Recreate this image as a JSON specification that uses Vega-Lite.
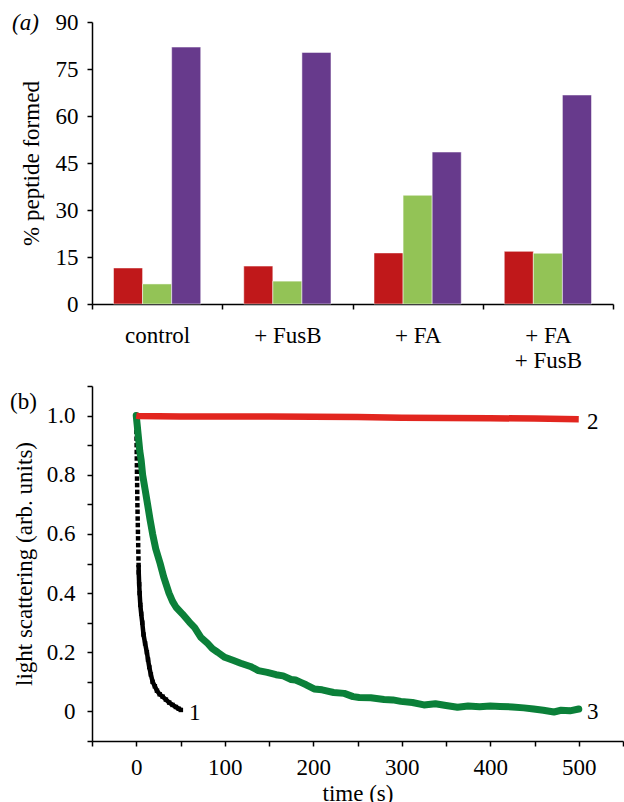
{
  "$schema": "https://vega.github.io/schema/vega-lite/v6.json",
  "padding": {"left": 10, "top": 11, "right": 1, "bottom": 0},
  "background": "white",
  "config": {
    "font": "Liberation Serif",
    "view": {"stroke": null},
    "axis": {
      "labelFont": "Liberation Serif", "titleFont": "Liberation Serif",
      "labelFontSize": 23, "titleFontSize": 23, "titleFontWeight": "normal",
      "labelColor": "#000", "titleColor": "#000", "domainColor": "#000", "tickColor": "#000",
      "grid": false, "domainWidth": 1.5, "tickWidth": 1.5, "tickSize": 5
    },
    "title": {"font": "Liberation Serif", "fontSize": 23, "fontWeight": "normal", "color": "#000"},
    "concat": {"spacing": 3}
  },
  "vconcat": [
    {
      "width": 521,
      "height": 282,
      "title": {"text": "(a)", "anchor": "start", "frame": "group", "dx": -80, "offset": -42, "baseline": "alphabetic", "fontStyle": "italic"},
      "data": {"values": [
        {"condition": "control", "series": "1", "value": 11.5},
        {"condition": "control", "series": "2", "value": 6.4},
        {"condition": "control", "series": "3", "value": 82.0},
        {"condition": "+ FusB", "series": "1", "value": 12.1},
        {"condition": "+ FusB", "series": "2", "value": 7.3},
        {"condition": "+ FusB", "series": "3", "value": 80.3},
        {"condition": "+ FA", "series": "1", "value": 16.3},
        {"condition": "+ FA", "series": "2", "value": 34.7},
        {"condition": "+ FA", "series": "3", "value": 48.5},
        {"condition": "+ FA + FusB", "series": "1", "value": 16.8},
        {"condition": "+ FA + FusB", "series": "2", "value": 16.2},
        {"condition": "+ FA + FusB", "series": "3", "value": 66.7}
      ]},
      "mark": {"type": "bar", "stroke": "white", "strokeWidth": 0.5},
      "encoding": {
        "x": {
          "field": "condition", "type": "nominal",
          "sort": ["control", "+ FusB", "+ FA", "+ FA + FusB"],
          "scale": {"paddingInner": 0, "paddingOuter": 0},
          "axis": {
            "title": null, "labelAngle": 0, "tickBand": "extent", "labelPadding": 15,
            "labelLineHeight": 25, "labelBaseline": "top",
            "labelExpr": "datum.value == '+ FA + FusB' ? ['+ FA', '+ FusB'] : datum.label"
          }
        },
        "xOffset": {"field": "series", "type": "nominal", "sort": ["1", "2", "3"], "scale": {"paddingOuter": 0.74, "paddingInner": 0}},
        "y": {
          "field": "value", "type": "quantitative",
          "scale": {"domain": [0, 90], "nice": false},
          "axis": {"values": [0, 15, 30, 45, 60, 75, 90], "title": "% peptide formed", "labelPadding": 9, "titlePadding": 12}
        },
        "color": {"field": "series", "type": "nominal", "scale": {"domain": ["1", "2", "3"], "range": ["#C0181A", "#93C356", "#673A8C"]}, "legend": null}
      }
    },
    {
      "width": 531,
      "height": 355,
      "title": {"text": "(b)", "anchor": "start", "frame": "group", "dx": -82, "offset": -57, "baseline": "alphabetic"},
      "data": {"values": [
        {"series": "1", "t": 0.0, "v": 0.99},
        {"series": "1", "t": 0.1, "v": 0.967},
        {"series": "1", "t": 0.2, "v": 0.945},
        {"series": "1", "t": 0.3, "v": 0.922},
        {"series": "1", "t": 0.4, "v": 0.9},
        {"series": "1", "t": 0.5, "v": 0.877},
        {"series": "1", "t": 0.6, "v": 0.855},
        {"series": "1", "t": 0.7, "v": 0.832},
        {"series": "1", "t": 0.8, "v": 0.81},
        {"series": "1", "t": 0.9, "v": 0.787},
        {"series": "1", "t": 1.0, "v": 0.765},
        {"series": "1", "t": 1.1, "v": 0.742},
        {"series": "1", "t": 1.2, "v": 0.72},
        {"series": "1", "t": 1.3, "v": 0.697},
        {"series": "1", "t": 1.45, "v": 0.675},
        {"series": "1", "t": 1.6, "v": 0.652},
        {"series": "1", "t": 1.75, "v": 0.63},
        {"series": "1", "t": 1.9, "v": 0.607},
        {"series": "1", "t": 2.05, "v": 0.585},
        {"series": "1", "t": 2.2, "v": 0.562},
        {"series": "1", "t": 2.35, "v": 0.54},
        {"series": "1", "t": 2.5, "v": 0.517},
        {"series": "1", "t": 2.65, "v": 0.495},
        {"series": "1", "t": 2.8, "v": 0.47},
        {"series": "1", "t": 3.3, "v": 0.43},
        {"series": "1", "t": 3.8, "v": 0.4},
        {"series": "1", "t": 4.6, "v": 0.36},
        {"series": "1", "t": 5.6, "v": 0.33},
        {"series": "1", "t": 6.8, "v": 0.3},
        {"series": "1", "t": 8.2, "v": 0.26},
        {"series": "1", "t": 10.0, "v": 0.23},
        {"series": "1", "t": 12.0, "v": 0.2},
        {"series": "1", "t": 13.3, "v": 0.175},
        {"series": "1", "t": 14.7, "v": 0.15},
        {"series": "1", "t": 16.5, "v": 0.125},
        {"series": "1", "t": 18.5, "v": 0.1},
        {"series": "1", "t": 21.0, "v": 0.085},
        {"series": "1", "t": 23.4, "v": 0.07},
        {"series": "1", "t": 26.5, "v": 0.058},
        {"series": "1", "t": 29.8, "v": 0.05},
        {"series": "1", "t": 33.5, "v": 0.04},
        {"series": "1", "t": 37.2, "v": 0.03},
        {"series": "1", "t": 41.0, "v": 0.022},
        {"series": "1", "t": 44.8, "v": 0.015},
        {"series": "1", "t": 48.0, "v": 0.009},
        {"series": "1", "t": 50.4, "v": 0.005},
        {"series": "3", "t": 0, "v": 1.0},
        {"series": "3", "t": 1, "v": 0.97},
        {"series": "3", "t": 2, "v": 0.94},
        {"series": "3", "t": 3, "v": 0.91},
        {"series": "3", "t": 4, "v": 0.88},
        {"series": "3", "t": 5.5, "v": 0.85},
        {"series": "3", "t": 7.2, "v": 0.8},
        {"series": "3", "t": 10, "v": 0.75},
        {"series": "3", "t": 12.8, "v": 0.7},
        {"series": "3", "t": 15.5, "v": 0.65},
        {"series": "3", "t": 18.5, "v": 0.6},
        {"series": "3", "t": 22, "v": 0.55},
        {"series": "3", "t": 27, "v": 0.5},
        {"series": "3", "t": 31, "v": 0.455},
        {"series": "3", "t": 37, "v": 0.4},
        {"series": "3", "t": 41, "v": 0.372},
        {"series": "3", "t": 45, "v": 0.352},
        {"series": "3", "t": 52, "v": 0.33},
        {"series": "3", "t": 60, "v": 0.302},
        {"series": "3", "t": 66, "v": 0.283},
        {"series": "3", "t": 73, "v": 0.25},
        {"series": "3", "t": 80, "v": 0.232},
        {"series": "3", "t": 86, "v": 0.212},
        {"series": "3", "t": 92, "v": 0.2},
        {"series": "3", "t": 100, "v": 0.183},
        {"series": "3", "t": 110, "v": 0.172},
        {"series": "3", "t": 118, "v": 0.163},
        {"series": "3", "t": 129, "v": 0.152},
        {"series": "3", "t": 138, "v": 0.138},
        {"series": "3", "t": 148, "v": 0.132},
        {"series": "3", "t": 158, "v": 0.124},
        {"series": "3", "t": 166, "v": 0.12},
        {"series": "3", "t": 175, "v": 0.108},
        {"series": "3", "t": 180, "v": 0.106},
        {"series": "3", "t": 186, "v": 0.098},
        {"series": "3", "t": 192, "v": 0.09},
        {"series": "3", "t": 201, "v": 0.076},
        {"series": "3", "t": 210, "v": 0.073},
        {"series": "3", "t": 223, "v": 0.064},
        {"series": "3", "t": 235, "v": 0.061},
        {"series": "3", "t": 245, "v": 0.05},
        {"series": "3", "t": 252, "v": 0.047},
        {"series": "3", "t": 265, "v": 0.046},
        {"series": "3", "t": 280, "v": 0.04},
        {"series": "3", "t": 290, "v": 0.039},
        {"series": "3", "t": 299, "v": 0.034},
        {"series": "3", "t": 312, "v": 0.03},
        {"series": "3", "t": 325, "v": 0.022},
        {"series": "3", "t": 338, "v": 0.026},
        {"series": "3", "t": 350, "v": 0.02},
        {"series": "3", "t": 363, "v": 0.014},
        {"series": "3", "t": 375, "v": 0.018},
        {"series": "3", "t": 388, "v": 0.016},
        {"series": "3", "t": 400, "v": 0.018},
        {"series": "3", "t": 411, "v": 0.017},
        {"series": "3", "t": 425, "v": 0.015},
        {"series": "3", "t": 438, "v": 0.012},
        {"series": "3", "t": 449, "v": 0.008},
        {"series": "3", "t": 460, "v": 0.004},
        {"series": "3", "t": 472, "v": -0.002},
        {"series": "3", "t": 480, "v": 0.004},
        {"series": "3", "t": 490, "v": 0.002},
        {"series": "3", "t": 500, "v": 0.008},
        {"series": "2", "t": 0, "v": 1.0},
        {"series": "2", "t": 2, "v": 0.999},
        {"series": "2", "t": 25, "v": 0.998},
        {"series": "2", "t": 50, "v": 0.997},
        {"series": "2", "t": 100, "v": 0.997},
        {"series": "2", "t": 150, "v": 0.997},
        {"series": "2", "t": 200, "v": 0.996},
        {"series": "2", "t": 250, "v": 0.995},
        {"series": "2", "t": 300, "v": 0.993},
        {"series": "2", "t": 350, "v": 0.992},
        {"series": "2", "t": 400, "v": 0.991},
        {"series": "2", "t": 450, "v": 0.99},
        {"series": "2", "t": 500, "v": 0.988}
      ]},
      "encoding": {
        "x": {
          "field": "t", "type": "quantitative",
          "scale": {"domain": [-50, 550], "nice": false, "zero": false},
          "axis": {
            "values": [-50, 0, 50, 100, 150, 200, 250, 300, 350, 400, 450, 500, 550],
            "labelExpr": "datum.value >= 0 && datum.value <= 500 && datum.value % 100 == 0 ? datum.label : ''",
            "title": "time (s)", "labelPadding": 10, "titlePadding": 3, "labelFlush": false, "labelOverlap": false
          }
        },
        "y": {
          "field": "v", "type": "quantitative",
          "scale": {"domain": [-0.1, 1.1], "nice": false, "zero": false},
          "axis": {
            "values": [-0.1, 0, 0.1, 0.2, 0.3, 0.4, 0.5, 0.6, 0.7, 0.8, 0.9, 1.0, 1.1],
            "labelExpr": "datum.value >= -0.01 && datum.value <= 1.01 && abs(round(datum.value * 10)) % 2 == 0 ? (datum.value == 0 ? '0' : format(datum.value, '.1f')) : ''",
            "title": "light scattering (arb. units)", "labelPadding": 12, "titlePadding": 10, "labelFlush": false, "labelOverlap": false
          }
        }
      },
      "layer": [
        {
          "transform": [{"filter": "datum.series == '1' && datum.v <= 0.5"}],
          "mark": {"type": "line", "color": "#000", "strokeWidth": 4.5, "strokeJoin": "round"},
          "encoding": {}
        },
        {
          "transform": [{"filter": "datum.series == '1'"}],
          "mark": {"type": "point", "shape": "square", "filled": true, "color": "#000", "size": 20, "opacity": 1},
          "encoding": {}
        },
        {
          "transform": [{"filter": "datum.series == '3'"}],
          "mark": {"type": "line", "color": "#0B8039", "strokeWidth": 7, "strokeCap": "round", "strokeJoin": "round"},
          "encoding": {}
        },
        {
          "transform": [{"filter": "datum.series == '2'"}],
          "mark": {"type": "line", "color": "#E2261F", "strokeWidth": 6.5, "strokeJoin": "round"},
          "encoding": {}
        },
        {
          "transform": [
            {"joinaggregate": [{"op": "max", "field": "t", "as": "tmax"}], "groupby": ["series"]},
            {"filter": "datum.t == datum.tmax"}
          ],
          "mark": {"type": "text", "dx": 14, "dy": 3, "align": "center", "baseline": "middle", "fontSize": 23, "font": "Liberation Serif", "color": "#000"},
          "encoding": {"text": {"field": "series"}}
        }
      ]
    }
  ]
}
